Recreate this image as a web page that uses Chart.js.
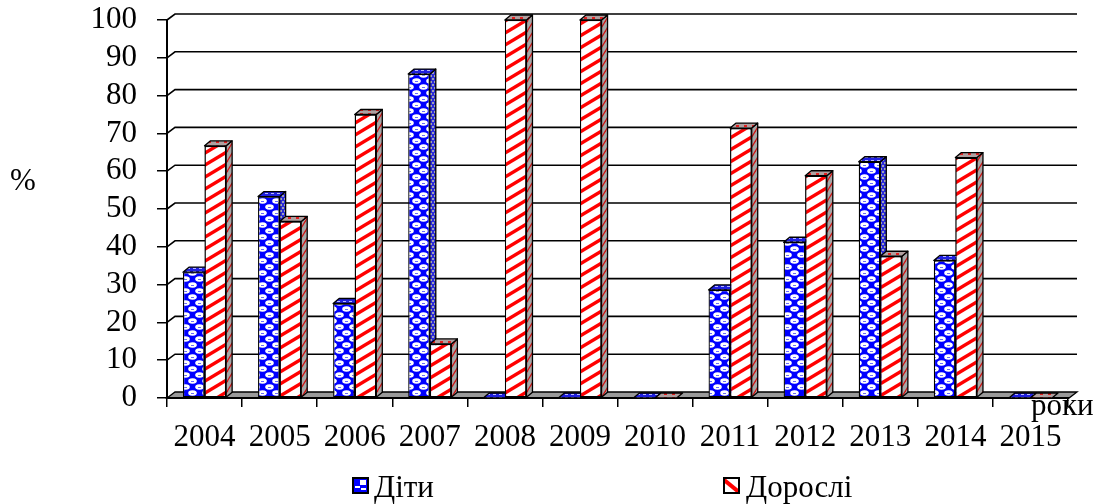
<!DOCTYPE html>
<html>
<head>
<meta charset="utf-8">
<script src="https://cdn.jsdelivr.net/npm/chart.js@4.4.0/dist/chart.umd.min.js"></script>
<style>
  html, body { margin: 0; padding: 0; background: #ffffff; }
  canvas { display: block; }
</style>
</head>
<body>
<canvas id="chart" width="1103" height="504"></canvas>
<script>
// Years on the category axis
const years = ['2004', '2005', '2006', '2007', '2008', '2009', '2010', '2011', '2012', '2013', '2014', '2015'];
// Share of children, %
const children = [33.3, 53.3, 25.0, 85.7, 0, 0, 0, 28.6, 41.2, 62.5, 36.4, 0];
// Share of adults, %
const adults = [66.7, 46.7, 75.0, 14.3, 100, 100, 0, 71.4, 58.8, 37.5, 63.6, 0];
// Value axis ticks
const yTicks = [0, 10, 20, 30, 40, 50, 60, 70, 80, 90, 100];
// Series names and axis captions
const seriesNames = ['Діти', 'Дорослі'];
const valueCaption = '%';
const categoryCaption = 'роки';

const FONT = 'Liberation Serif, Times New Roman, serif';
const WALL_DX = 8, WALL_DY = -6;   // depth of the back wall / floor
const BAR_DX = 6, BAR_DY = -5;     // depth of each column

const canvas = document.getElementById('chart');
const baseCtx = canvas.getContext('2d');

function makePattern(w, h, paint) {
  const tile = document.createElement('canvas');
  tile.width = w; tile.height = h;
  paint(tile.getContext('2d'), w, h);
  return baseCtx.createPattern(tile, 'repeat');
}

// rising diagonal stripes
function diagonal(g, w, h, color, lw) {
  g.strokeStyle = color; g.lineWidth = lw;
  for (let k = -2; k <= 2; k++) {
    g.beginPath();
    g.moveTo(-w, 2 * h + k * h);
    g.lineTo(2 * w, -h + k * h);
    g.stroke();
  }
}

const redFront = makePattern(20, 12, (g, w, h) => {
  g.fillStyle = '#ffffff'; g.fillRect(0, 0, w, h);
  diagonal(g, w, h, '#ff0000', 3.4);
});
const redSide = makePattern(6, 10, (g, w, h) => {
  g.fillStyle = '#a6a6a6'; g.fillRect(0, 0, w, h);
  diagonal(g, w, h, '#d01010', 1.2);
});
const redTop = makePattern(8, 4, (g, w, h) => {
  g.fillStyle = '#b0a0a0'; g.fillRect(0, 0, w, h);
  g.fillStyle = '#e02020'; g.fillRect(0, 1, 3, 2);
});
const blueFront = makePattern(14, 12, (g, w, h) => {
  g.fillStyle = '#0000ff'; g.fillRect(0, 0, w, h);
  g.fillStyle = '#ffffff';
  [[3.5, 3], [10.5, 9], [17.5, 3], [-3.5, 9]].forEach(([cx, cy]) => {
    g.beginPath(); g.ellipse(cx, cy, 4.3, 2.7, 0, 0, Math.PI * 2); g.fill();
  });
  g.fillStyle = '#6a6aff';
  g.fillRect(2, 3, 3, 1); g.fillRect(9, 9, 3, 1);
});
const blueSide = makePattern(4, 6, (g, w, h) => {
  g.fillStyle = '#2a2ad8'; g.fillRect(0, 0, w, h);
  g.fillStyle = '#a0a0b8'; g.fillRect(0, 0, 2, 2); g.fillRect(2, 3, 2, 2);
});
const blueTop = makePattern(6, 3, (g, w, h) => {
  g.fillStyle = '#2020e0'; g.fillRect(0, 0, w, h);
  g.fillStyle = '#b8b8ff'; g.fillRect(1, 1, 3, 1);
});

function drawColumnFaces(ctx, meta, sideFill, topFill) {
  meta.data.forEach(el => {
    const p = el.getProps(['x', 'y', 'base', 'width'], true);
    const left = p.x - p.width / 2, right = p.x + p.width / 2;
    const top = Math.min(p.y, p.base), bottom = Math.max(p.y, p.base);
    ctx.save();
    ctx.lineWidth = 1.3;
    ctx.strokeStyle = '#000000';
    ctx.lineJoin = 'round';
    if (bottom - top > 0.5) {
      ctx.beginPath();
      ctx.moveTo(right, top);
      ctx.lineTo(right + BAR_DX, top + BAR_DY);
      ctx.lineTo(right + BAR_DX, bottom + BAR_DY);
      ctx.lineTo(right, bottom);
      ctx.closePath();
      ctx.fillStyle = sideFill; ctx.fill(); ctx.stroke();
    }
    ctx.beginPath();
    ctx.moveTo(left, top);
    ctx.lineTo(left + BAR_DX, top + BAR_DY);
    ctx.lineTo(right + BAR_DX, top + BAR_DY);
    ctx.lineTo(right, top);
    ctx.closePath();
    ctx.fillStyle = topFill; ctx.fill(); ctx.stroke();
    ctx.restore();
  });
}

const depthPlugin = {
  id: 'depth',
  beforeDatasetsDraw(chart) {
    const { ctx, chartArea: a, scales: { y } } = chart;
    const L = a.left, R = a.right + 1, B = a.bottom;
    ctx.save();
    // back-wall grid lines
    ctx.strokeStyle = '#000000';
    ctx.lineWidth = 1.6;
    yTicks.forEach(v => {
      if (v === 0) return;
      const py = y.getPixelForValue(v);
      ctx.beginPath();
      ctx.moveTo(L, py);
      ctx.lineTo(L + WALL_DX, py + WALL_DY);
      ctx.lineTo(R + WALL_DX, py + WALL_DY);
      ctx.stroke();
    });
    // floor
    ctx.beginPath();
    ctx.moveTo(L, B);
    ctx.lineTo(R, B);
    ctx.lineTo(R + WALL_DX, B + WALL_DY);
    ctx.lineTo(L + WALL_DX, B + WALL_DY);
    ctx.closePath();
    ctx.fillStyle = '#9a9a9a';
    ctx.fill();
    ctx.lineWidth = 1.3;
    ctx.stroke();
    ctx.lineWidth = 2;
    ctx.beginPath(); ctx.moveTo(L, B); ctx.lineTo(R, B); ctx.stroke();
    ctx.restore();
  },
  afterDatasetsDraw(chart) {
    const ctx = chart.ctx;
    const m0 = chart.getDatasetMeta(0), m1 = chart.getDatasetMeta(1);
    drawColumnFaces(ctx, m0, blueSide, blueTop);
    // adults' columns stand in front of the children's side faces
    m1.data.forEach(el => el.draw(ctx, chart.chartArea));
    drawColumnFaces(ctx, m1, redSide, redTop);
  },
  afterDraw(chart) {
    const ctx = chart.ctx;
    ctx.save();
    ctx.fillStyle = '#000000';
    ctx.textBaseline = 'alphabetic';
    ctx.textAlign = 'left';
    ctx.font = '31px ' + FONT;
    ctx.fillText(valueCaption, 10, 190);
    ctx.fillText(categoryCaption, 1031, 415);

    // legend
    ctx.lineWidth = 2;
    ctx.strokeStyle = '#000000';
    // children key
    ctx.fillStyle = '#0000ff';
    ctx.fillRect(353, 478, 15, 15);
    ctx.fillStyle = '#ffffff';
    ctx.fillRect(360, 480, 6, 5);
    ctx.fillRect(355, 486, 5, 2);
    ctx.fillRect(361, 488, 5, 2);
    ctx.strokeRect(353, 478, 15, 15);
    // adults key
    ctx.fillStyle = '#ffffff';
    ctx.fillRect(724, 478, 15, 15);
    ctx.save();
    ctx.beginPath(); ctx.rect(724, 478, 15, 15); ctx.clip();
    ctx.strokeStyle = '#ff0000'; ctx.lineWidth = 4;
    ctx.beginPath(); ctx.moveTo(723, 479); ctx.lineTo(740, 493); ctx.stroke();
    ctx.restore();
    ctx.strokeRect(724, 478, 15, 15);

    ctx.fillStyle = '#000000';
    ctx.font = '31px ' + FONT;
    ctx.fillText(seriesNames[0], 374, 497);
    ctx.fillText(seriesNames[1], 746, 497);
    ctx.restore();
  }
};

const tickFont = { family: FONT, size: 31 };

new Chart(canvas, {
  type: 'bar',
  data: {
    labels: years,
    datasets: [
      { label: seriesNames[0], data: children, backgroundColor: blueFront,
        borderColor: '#000000', borderWidth: 1.3, borderSkipped: false,
        barPercentage: 1, categoryPercentage: 0.575 },
      { label: seriesNames[1], data: adults, backgroundColor: redFront,
        borderColor: '#000000', borderWidth: 1.3, borderSkipped: false,
        barPercentage: 1, categoryPercentage: 0.575 }
    ]
  },
  options: {
    responsive: false,
    animation: false,
    devicePixelRatio: 1,
    layout: { padding: { top: 20, right: 35, left: 0, bottom: 0 } },
    plugins: { legend: { display: false }, tooltip: { enabled: false } },
    scales: {
      x: {
        grid: { drawOnChartArea: false, drawTicks: true, tickLength: 9, color: '#000000', lineWidth: 1.5, offset: true },
        border: { display: false },
        ticks: { color: '#000000', font: tickFont, padding: 12, maxRotation: 0, autoSkip: false },
        afterFit(s) { s.height = 106; s.paddingLeft = 0; s.paddingRight = 0; }
      },
      y: {
        min: 0, max: 100,
        afterBuildTicks(s) { s.ticks = yTicks.map(v => ({ value: v })); },
        grid: { drawOnChartArea: false, drawTicks: true, tickLength: 10, color: '#000000', lineWidth: 1.5 },
        border: { display: true, color: '#000000', width: 2 },
        ticks: { color: '#000000', font: tickFont, padding: 20, autoSkip: false },
        afterFit(s) { s.width = 167; s.paddingTop = 0; s.paddingBottom = 0; }
      }
    }
  },
  plugins: [depthPlugin]
});
</script>
</body>
</html>
